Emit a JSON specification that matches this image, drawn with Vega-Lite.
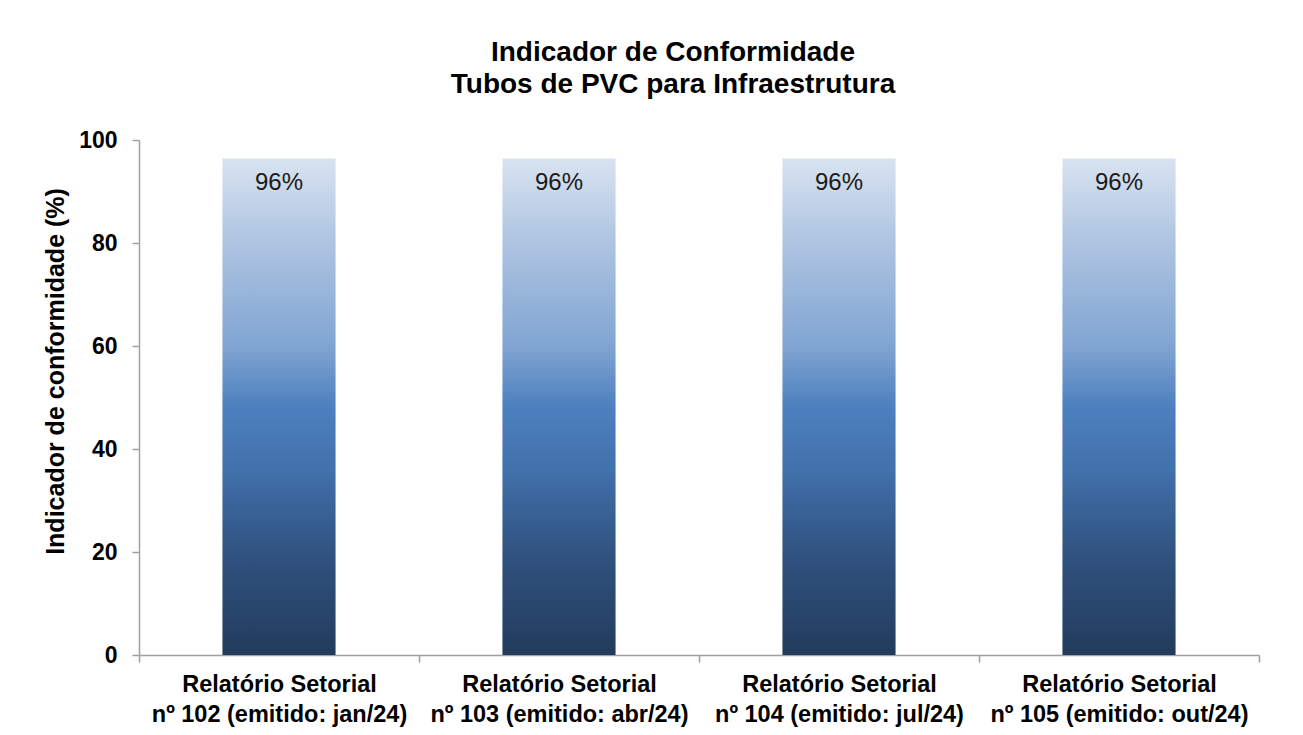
{
  "$schema": "https://vega.github.io/schema/vega-lite/v6.json",
  "width": 1120,
  "height": 515,
  "autosize": "none",
  "padding": {"left": 139, "top": 140, "right": 44, "bottom": 80},
  "background": "white",
  "config": {"view": {"stroke": null}, "font": "Liberation Sans"},
  "title": {
    "text": ["Indicador de Conformidade", "Tubos de PVC para Infraestrutura"],
    "font": "Liberation Sans",
    "fontSize": 28,
    "fontWeight": "bold",
    "color": "#000000",
    "lineHeight": 32,
    "anchor": "middle",
    "dx": -26,
    "offset": 30
  },
  "data": {
    "values": [
      {"relatorio": "Relatório Setorial|nº 102 (emitido: jan/24)", "indicador": 96.4, "rotulo": "96%"},
      {"relatorio": "Relatório Setorial|nº 103 (emitido: abr/24)", "indicador": 96.4, "rotulo": "96%"},
      {"relatorio": "Relatório Setorial|nº 104 (emitido: jul/24)", "indicador": 96.4, "rotulo": "96%"},
      {"relatorio": "Relatório Setorial|nº 105 (emitido: out/24)", "indicador": 96.4, "rotulo": "96%"}
    ]
  },
  "encoding": {
    "x": {
      "field": "relatorio",
      "type": "nominal",
      "sort": null,
      "scale": {"paddingInner": 0, "paddingOuter": 0},
      "axis": {
        "title": null,
        "labelExpr": "split(datum.label, '|')",
        "labelAngle": 0,
        "labelLimit": 0,
        "labelFont": "Liberation Sans",
        "labelFontSize": 23.5,
        "labelFontWeight": "bold",
        "labelColor": "#000000",
        "labelLineHeight": 30,
        "labelPadding": 10,
        "tickBand": "extent",
        "tickSize": 7,
        "tickColor": "#a0a0a0",
        "domainColor": "#a0a0a0",
        "domainWidth": 1.5,
        "tickWidth": 1.5,
        "grid": false
      }
    },
    "y": {
      "field": "indicador",
      "type": "quantitative",
      "scale": {"domain": [0, 100], "nice": false},
      "axis": {
        "title": "Indicador de conformidade (%)",
        "titleFont": "Liberation Sans",
        "titleFontSize": 25,
        "titleFontWeight": "bold",
        "titleColor": "#000000",
        "titlePadding": 10,
        "titleY": 231,
        "values": [0, 20, 40, 60, 80, 100],
        "labelFont": "Liberation Sans",
        "labelFontSize": 23,
        "labelFontWeight": "bold",
        "labelColor": "#000000",
        "labelPadding": 15,
        "tickSize": 7,
        "tickColor": "#a0a0a0",
        "domainColor": "#a0a0a0",
        "domainWidth": 1.5,
        "tickWidth": 1.5,
        "grid": false
      }
    }
  },
  "layer": [
    {
      "mark": {
        "type": "bar",
        "width": {"band": 0.404},
        "color": {
          "gradient": "linear",
          "x1": 0, "y1": 0, "x2": 0, "y2": 1,
          "stops": [
            {"offset": 0, "color": "#d8e3f0"},
            {"offset": 0.17, "color": "#aec4e1"},
            {"offset": 0.38, "color": "#80a4d2"},
            {"offset": 0.5, "color": "#4d80bf"},
            {"offset": 0.62, "color": "#4272ad"},
            {"offset": 0.8, "color": "#30527f"},
            {"offset": 1, "color": "#223b5c"}
          ]
        }
      }
    },
    {
      "mark": {
        "type": "text",
        "baseline": "top",
        "dy": 12,
        "font": "Liberation Sans",
        "fontSize": 24,
        "color": "#1a1a1a"
      },
      "encoding": {"text": {"field": "rotulo"}}
    }
  ]
}
